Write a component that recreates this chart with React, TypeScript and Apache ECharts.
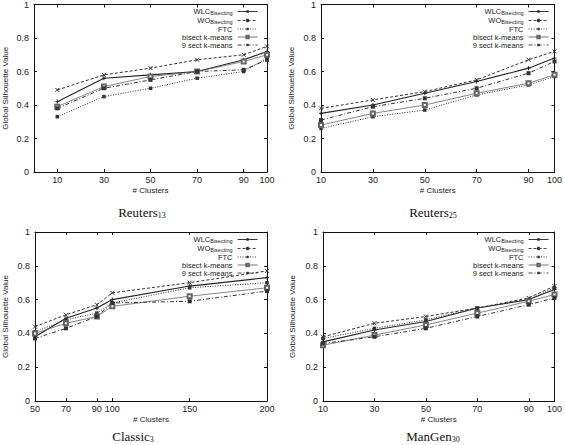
import React, { useEffect, useRef } from "react";
import * as echarts from "echarts";

const reutersClusters = [10, 30, 50, 70, 90, 100];
const classicClusters = [50, 70, 90, 100, 150, 200];
const yTicks = [0, 0.2, 0.4, 0.6, 0.8, 1];
const seriesNames = ["WLC Bisecting", "WO Bisecting", "FTC", "bisect k-means", "9 sect k-means"];

// Reuters13
const r13WLC = [0.42, 0.56, 0.58, 0.6, 0.67, 0.72];
const r13WO = [0.49, 0.58, 0.62, 0.67, 0.7, 0.75];
const r13FTC = [0.33, 0.45, 0.5, 0.56, 0.6, 0.68];
const r13Bisect = [0.39, 0.51, 0.57, 0.6, 0.66, 0.7];
const r13Nine = [0.38, 0.5, 0.55, 0.6, 0.61, 0.67];
// Reuters25
const r25WLC = [0.35, 0.4, 0.47, 0.54, 0.62, 0.68];
const r25WO = [0.38, 0.43, 0.48, 0.55, 0.67, 0.72];
const r25FTC = [0.26, 0.33, 0.37, 0.46, 0.52, 0.57];
const r25Bisect = [0.28, 0.35, 0.4, 0.47, 0.53, 0.58];
const r25Nine = [0.31, 0.39, 0.44, 0.5, 0.59, 0.66];
// Classic3
const c3WLC = [0.38, 0.49, 0.55, 0.6, 0.68, 0.73];
const c3WO = [0.44, 0.51, 0.57, 0.64, 0.7, 0.77];
const c3FTC = [0.41, 0.48, 0.52, 0.58, 0.67, 0.7];
const c3Bisect = [0.4, 0.46, 0.5, 0.56, 0.62, 0.67];
const c3Nine = [0.37, 0.43, 0.5, 0.58, 0.59, 0.65];
// ManGen30
const mgWLC = [0.35, 0.42, 0.47, 0.55, 0.6, 0.66];
const mgWO = [0.38, 0.46, 0.5, 0.55, 0.61, 0.68];
const mgFTC = [0.37, 0.43, 0.48, 0.55, 0.6, 0.67];
const mgBisect = [0.33, 0.39, 0.45, 0.52, 0.59, 0.63];
const mgNine = [0.34, 0.38, 0.43, 0.5, 0.57, 0.61];

const panels = [
  { title: "Reuters", sub: "13", x: reutersClusters, xMin: 0, xMax: 100, data: [r13WLC, r13WO, r13FTC, r13Bisect, r13Nine] },
  { title: "Reuters", sub: "25", x: reutersClusters, xMin: 10, xMax: 100, data: [r25WLC, r25WO, r25FTC, r25Bisect, r25Nine] },
  { title: "Classic", sub: "3", x: classicClusters, xMin: 50, xMax: 200, data: [c3WLC, c3WO, c3FTC, c3Bisect, c3Nine] },
  { title: "ManGen", sub: "30", x: reutersClusters, xMin: 10, xMax: 100, data: [mgWLC, mgWO, mgFTC, mgBisect, mgNine] },
];

const layout = [
  { left: 33, top: 4, width: 234, height: 168, yGap: 25, titleX: 137, titleTop: 200 },
  { left: 321, top: 4, width: 237, height: 168, yGap: 26, titleX: 428, titleTop: 200 },
  { left: 33, top: 232, width: 234, height: 169, yGap: 26, titleX: 128, titleTop: 424 },
  { left: 323, top: 232, width: 235, height: 169, yGap: 27, titleX: 428, titleTop: 424 },
];

const FONT = "Liberation Sans";
const INK = "#222";

const styles = [
  { type: "solid", width: 1.1, color: "#222", symbol: "path://M0,5H10M5,0V10", size: 4 },
  { type: [3, 2], width: 1, color: "#333", symbol: "path://M0,0L10,10M10,0L0,10", size: 4 },
  { type: [1, 1.5], width: 1, color: "#333", symbol: "rect", size: 3.5 },
  { type: "solid", width: 0.8, color: "#666", symbol: "emptyRect", size: 4 },
  { type: [4, 2, 1, 2], width: 1, color: "#333", symbol: "rect", size: 4 },
];

function legendFormatter(name: string) {
  if (name === "WLC Bisecting") return "{m|WLC}{s|Bisecting}";
  if (name === "WO Bisecting") return "{m|WO}{s|Bisecting}";
  return "{m|" + name + "}";
}

export default function App() {
  const ref = useRef<HTMLDivElement>(null);
  useEffect(() => {
    if (!ref.current) return;
    const chart = echarts.init(ref.current, null, { renderer: "svg" });
    const grid: any[] = [];
    const xAxis: any[] = [];
    const yAxis: any[] = [];
    const series: any[] = [];
    const legend: any[] = [];
    const title: any[] = [];

    panels.forEach((p, i) => {
      const L = layout[i];
      grid.push({ left: L.left, top: L.top, width: L.width, height: L.height });
      xAxis.push({
        type: "value",
        gridIndex: i,
        min: p.xMin,
        max: p.xMax,
        position: "bottom",
        name: "# Clusters",
        nameLocation: "middle",
        nameGap: 14,
        nameTextStyle: { fontFamily: FONT, fontSize: 8, color: INK },
        axisLine: { show: true, lineStyle: { color: "#111", width: 1 } },
        axisTick: { show: true, inside: true, length: 3, customValues: p.x, lineStyle: { color: "#111" } },
        axisLabel: { show: true, customValues: p.x, fontFamily: FONT, fontSize: 9, color: INK, margin: 3, showMinLabel: true, showMaxLabel: true },
        splitLine: { show: false },
      });
      yAxis.push({
        type: "value",
        gridIndex: i,
        min: 0,
        max: 1,
        interval: 0.2,
        position: "left",
        name: "Global Silhouette Value",
        nameLocation: "middle",
        nameGap: L.yGap,
        nameTextStyle: { fontFamily: FONT, fontSize: 8, color: INK },
        axisLine: { show: true, lineStyle: { color: "#111", width: 1 } },
        axisTick: { show: true, inside: true, length: 3, lineStyle: { color: "#111" } },
        axisLabel: { fontFamily: FONT, fontSize: 9, color: INK, margin: 5 },
        splitLine: { show: false },
      });
      legend.push({
        orient: "vertical",
        right: 565 - (L.left + L.width) + 9,
        top: L.top + 3,
        align: "right",
        itemWidth: 20,
        itemHeight: 3,
        itemGap: 0,
        padding: 0,
        data: seriesNames,
        formatter: legendFormatter,
        selectedMode: false,
        lineStyle: { width: 0.9 },
        textStyle: {
          width: 54,
          align: "right",
          fontFamily: FONT,
          fontSize: 7.5,
          lineHeight: 7.5,
          color: INK,
          rich: {
            m: { fontFamily: FONT, fontSize: 7.5, lineHeight: 7.5, color: INK },
            s: { fontFamily: FONT, fontSize: 5.5, lineHeight: 7.5, color: INK, padding: [3, 0, 0, 0] },
          },
        },
      });
      title.push({
        text: "{m|" + p.title + "}{s|" + p.sub + "}",
        left: L.titleX,
        top: L.titleTop,
        textAlign: "center",
        textStyle: {
          fontWeight: "normal",
          rich: {
            m: { fontFamily: "Liberation Serif", fontSize: 13, fontWeight: "normal", color: "#111" },
            s: { fontFamily: "Liberation Serif", fontSize: 8, fontWeight: "normal", color: "#111", padding: [6, 0, 0, 0] },
          },
        },
      });
      p.data.forEach((vals, k) => {
        const s = styles[k];
        series.push({
          type: "line",
          name: seriesNames[k],
          xAxisIndex: i,
          yAxisIndex: i,
          data: p.x.map((xv, j) => [xv, vals[j]]),
          symbol: s.symbol,
          symbolSize: s.size,
          showAllSymbol: true,
          lineStyle: { type: s.type, width: s.width, color: s.color },
          itemStyle: { color: s.color, borderColor: s.color, borderWidth: s.symbol.startsWith("path") ? 1 : s.symbol === "emptyRect" ? 0.8 : 0 },
          emphasis: { disabled: true },
          z: 3,
        });
      });
    });

    // mirrored axes (top / right) forming the box
    panels.forEach((p, i) => {
      xAxis.push({
        type: "value",
        gridIndex: i,
        min: p.xMin,
        max: p.xMax,
        position: "top",
        axisLine: { show: true, onZero: false, lineStyle: { color: "#111", width: 1 } },
        axisTick: { show: true, inside: true, length: 3, customValues: p.x, lineStyle: { color: "#111" } },
        axisLabel: { show: false },
        splitLine: { show: false },
      });
      yAxis.push({
        type: "value",
        gridIndex: i,
        min: 0,
        max: 1,
        interval: 0.2,
        position: "right",
        axisLine: { show: true, onZero: false, lineStyle: { color: "#111", width: 1 } },
        axisTick: { show: true, inside: true, length: 3, lineStyle: { color: "#111" } },
        axisLabel: { show: false },
        splitLine: { show: false },
      });
    });

    chart.setOption({
      animation: false,
      backgroundColor: "#fff",
      grid,
      xAxis,
      yAxis,
      legend,
      title,
      series,
    });
    return () => chart.dispose();
  }, []);
  return <div ref={ref} style={{ position: "absolute", left: 0, top: 0, width: 565, height: 445 }} />;
}
